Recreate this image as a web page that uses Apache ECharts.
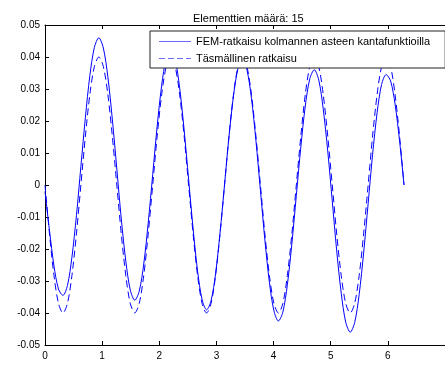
<!DOCTYPE html>
<html>
<head>
<meta charset="utf-8">
<script src="https://cdn.jsdelivr.net/npm/echarts@6/dist/echarts.min.js"></script>
<style>html,body{margin:0;padding:0;background:#fff}#c{width:445px;height:365px}</style>
</head>
<body>
<div id="c"></div>
<script>
var titleText = 'Elementtien määrä: 15';
var seriesNames = ['FEM-ratkaisu kolmannen asteen kantafunktioilla', 'Täsmällinen ratkaisu'];
var xValues = [0, 0.079, 0.157, 0.236, 0.314, 0.393, 0.471, 0.550, 0.628, 0.707, 0.785, 0.864, 0.942, 1.021, 1.100, 1.178, 1.257, 1.335, 1.414, 1.492, 1.571, 1.649, 1.728, 1.806, 1.885, 1.963, 2.042, 2.121, 2.199, 2.278, 2.356, 2.435, 2.513, 2.592, 2.670, 2.749, 2.827, 2.906, 2.985, 3.063, 3.142, 3.220, 3.299, 3.377, 3.456, 3.534, 3.613, 3.691, 3.770, 3.848, 3.927, 4.006, 4.084, 4.163, 4.241, 4.320, 4.398, 4.477, 4.555, 4.634, 4.712, 4.791, 4.869, 4.948, 5.027, 5.105, 5.184, 5.262, 5.341, 5.419, 5.498, 5.576, 5.655, 5.733, 5.812, 5.890, 5.969, 6.048, 6.126, 6.205, 6.283];
var femValues = [-0.0020, -0.0143, -0.0253, -0.0325, -0.0345, -0.0314, -0.0226, -0.0096, 0.0058, 0.0212, 0.0342, 0.0430, 0.0460, 0.0428, 0.0338, 0.0206,
  0.0050, -0.0106, -0.0238, -0.0328, -0.0360, -0.0332, -0.0247, -0.0119, 0.0033, 0.0184, 0.0312, 0.0397, 0.0425, 0.0393, 0.0304, 0.0172,
  0.0018, -0.0137, -0.0269, -0.0358, -0.0390, -0.0362, -0.0277, -0.0150, 0.0001, 0.0152, 0.0279, 0.0364, 0.0392, 0.0360, 0.0271, 0.0139,
  -0.0017, -0.0172, -0.0304, -0.0393, -0.0425, -0.0397, -0.0312, -0.0184, -0.0033, 0.0119, 0.0247, 0.0332, 0.0360, 0.0328, 0.0238, 0.0106,
  -0.0050, -0.0206, -0.0338, -0.0428, -0.0460, -0.0430, -0.0342, -0.0212, -0.0058, 0.0096, 0.0226, 0.0314, 0.0345, 0.0325, 0.0253, 0.0138,
  0];
var exactValues = [0, -0.0153, -0.0283, -0.0370, -0.0400, -0.0370, -0.0283, -0.0153, 0, 0.0153, 0.0283, 0.0370, 0.0400, 0.0370, 0.0283, 0.0153,
  0, -0.0153, -0.0283, -0.0370, -0.0400, -0.0370, -0.0283, -0.0153, 0, 0.0153, 0.0283, 0.0370, 0.0400, 0.0370, 0.0283, 0.0153,
  0, -0.0153, -0.0283, -0.0370, -0.0400, -0.0370, -0.0283, -0.0153, 0, 0.0153, 0.0283, 0.0370, 0.0400, 0.0370, 0.0283, 0.0153,
  0, -0.0153, -0.0283, -0.0370, -0.0400, -0.0370, -0.0283, -0.0153, 0, 0.0153, 0.0283, 0.0370, 0.0400, 0.0370, 0.0283, 0.0153,
  0, -0.0153, -0.0283, -0.0370, -0.0400, -0.0370, -0.0283, -0.0153, 0, 0.0153, 0.0283, 0.0370, 0.0400, 0.0370, 0.0283, 0.0153,
  0];
var xMin = 0, xMax = 7, xStep = 1;
var yMin = -0.05, yMax = 0.05, yStep = 0.01;

function pairs(xs, ys) { return xs.map(function (x, i) { return [x, ys[i]]; }); }
var FONT = 'Liberation Sans, Arial, sans-serif';
var BLUE = '#0000ff';
var LEGEND_BLUE = '#6a6aff';
var chart = echarts.init(document.getElementById('c'), null, {renderer: 'canvas'});
var axisCommon = {
  type: 'value', min: xMin, max: xMax, interval: xStep,
  axisLine: {show: true, onZero: false, lineStyle: {color: '#000', width: 1}},
  axisTick: {show: true, inside: true, length: 4, lineStyle: {color: '#000'}},
  splitLine: {show: false}
};
chart.setOption({
  animation: false,
  backgroundColor: '#fff',
  title: {
    text: titleText, left: 188, top: 8,
    textStyle: {fontFamily: FONT, fontSize: 11, fontWeight: 'normal', color: '#000'}
  },
  grid: {left: 45, top: 25, right: -6, bottom: 20, containLabel: false},
  legend: {
    orient: 'vertical', left: 150, top: 31,
    backgroundColor: '#fff', borderColor: '#222', borderWidth: 1,
    padding: [5, 15, 4, 9], itemGap: 6, itemWidth: 32, itemHeight: 1.5,
    textStyle: {fontFamily: FONT, fontSize: 11, color: '#000', padding: [0, 0, 0, 0]},
    data: [
      {name: seriesNames[0], icon: 'path://M0,0h32v1h-32z', itemStyle: {color: LEGEND_BLUE, opacity: 1}},
      {name: seriesNames[1], icon: 'path://M0,0h6v1h-6z M9,0h6v1h-6z M18,0h6v1h-6z M27,0h5v1h-5z', itemStyle: {color: LEGEND_BLUE, opacity: 1}}
    ]
  },
  xAxis: [
    Object.assign({}, axisCommon, {
      position: 'bottom',
      axisLabel: {show: true, color: '#000', fontFamily: FONT, fontSize: 10, margin: 6,
        formatter: function (v) { return String(Math.round(v)); },
        showMaxLabel: false}
    }),
    Object.assign({}, axisCommon, {position: 'top', axisLabel: {show: false}})
  ],
  yAxis: [{
    type: 'value', min: yMin, max: yMax, interval: yStep,
    axisLine: {show: true, onZero: false, lineStyle: {color: '#000', width: 1}},
    axisTick: {show: true, inside: true, length: 4, lineStyle: {color: '#000'}},
    splitLine: {show: false},
    axisLabel: {color: '#000', fontFamily: FONT, fontSize: 10, margin: 5,
      formatter: function (v) { return Math.abs(v) < 1e-9 ? '0' : v.toFixed(2); }}
  }],
  series: [
    {
      name: seriesNames[0], type: 'line', data: pairs(xValues, femValues),
      smooth: 0.3, symbol: 'none', xAxisIndex: 0,
      lineStyle: {color: BLUE, width: 1, type: 'solid'},
      itemStyle: {color: BLUE}
    },
    {
      name: seriesNames[1], type: 'line', data: pairs(xValues, exactValues),
      smooth: 0.3, symbol: 'none', xAxisIndex: 0,
      lineStyle: {color: BLUE, width: 1, type: [7, 4]},
      itemStyle: {color: BLUE}
    }
  ]
});
</script>
</body>
</html>
